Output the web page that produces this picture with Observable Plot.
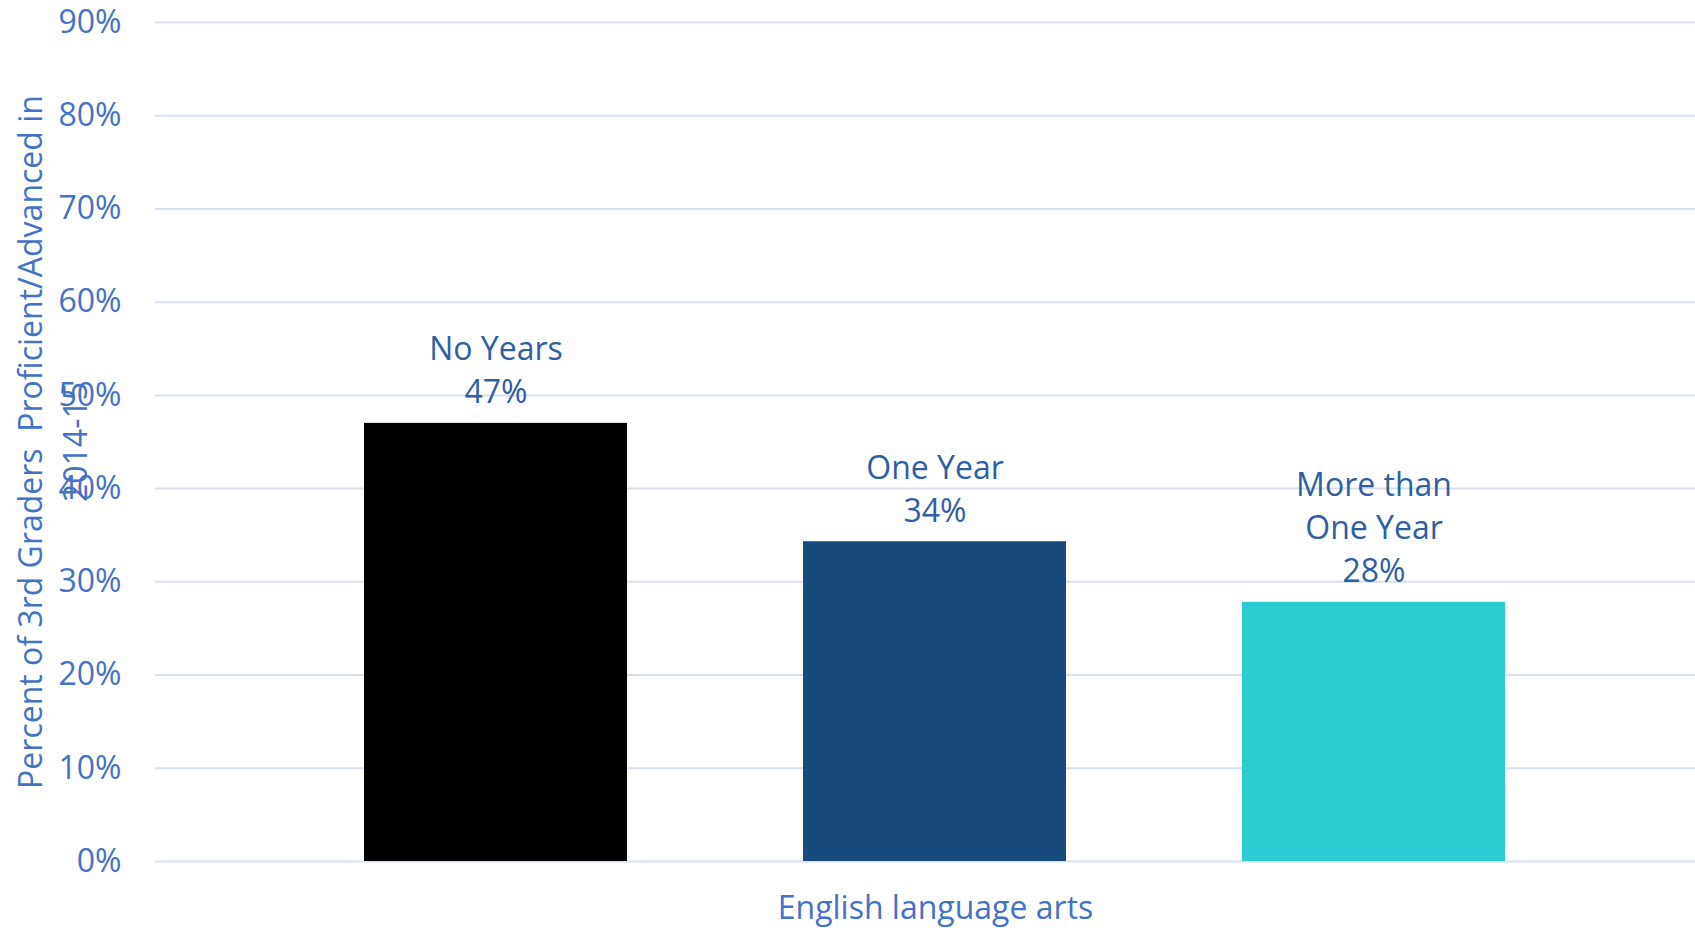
<!DOCTYPE html>
<html>
<head>
<meta charset="utf-8">
<script src="https://cdn.jsdelivr.net/npm/d3@7"></script>
<script src="https://cdn.jsdelivr.net/npm/@observablehq/plot@0.6"></script>
<style>
  html, body { margin: 0; padding: 0; background: #ffffff; }
  #chart { width: 1695px; height: 928px; }
</style>
</head>
<body>
<div id="chart"></div>
<script>
// ---- data ----
const series = ["No Years", "One Year", "More than\nOne Year"];
const values = [0.47, 0.343, 0.278];
const labels = ["47%", "34%", "28%"];
const colors = ["#000000", "#184B7D", "#2DCCD3"];
const subject = "English language arts";
const yTicks = [0, 0.1, 0.2, 0.3, 0.4, 0.5, 0.6, 0.7, 0.8, 0.9];
const yTitle = "Percent of 3rd Graders  Proficient/Advanced in\n2014-15";

const rows = series.map((s, i) => ({series: s, value: values[i], label: s + "\n" + labels[i]}));

const axisBlue = "#4472C4";
const labelBlue = "#2F5EA3";

const chart = Plot.plot({
  width: 1695,
  height: 928,
  marginLeft: 155,
  marginRight: -20,
  marginTop: 22,
  marginBottom: 67,
  style: {fontFamily: "'Open Sans', sans-serif", fontSize: "32px", background: "#ffffff"},
  x: {domain: series, paddingInner: 0.4, paddingOuter: 0.476, axis: null},
  y: {domain: [0, 0.9], axis: null},
  color: {domain: series, range: colors},
  marks: [
    Plot.gridY(yTicks, {stroke: "#D5E0F2", strokeOpacity: 1, strokeWidth: 2}),
    Plot.axisY(yTicks, {
      tickSize: 0, tickPadding: 34, label: null,
      tickFormat: d => Math.round(d * 100) + "%",
      fill: axisBlue, fontSize: 32
    }),
    Plot.barY(rows, {x: "series", y: "value", fill: "series"}),
    Plot.text(rows, {
      x: "series", y: "value", text: "label",
      lineAnchor: "bottom", dy: -20, lineHeight: 1.35,
      fill: labelBlue, fontSize: 32
    }),
    Plot.text([subject], {
      frameAnchor: "bottom", text: d => d, dy: 47, lineAnchor: "middle",
      fill: axisBlue, fontSize: 32
    }),
    Plot.text([yTitle], {
      frameAnchor: "left", text: d => d, dx: -105, rotate: -90,
      lineAnchor: "middle", textAnchor: "middle", lineHeight: 1.4,
      fill: axisBlue, fontSize: 32
    })
  ]
});
document.getElementById("chart").appendChild(chart);
</script>
</body>
</html>
